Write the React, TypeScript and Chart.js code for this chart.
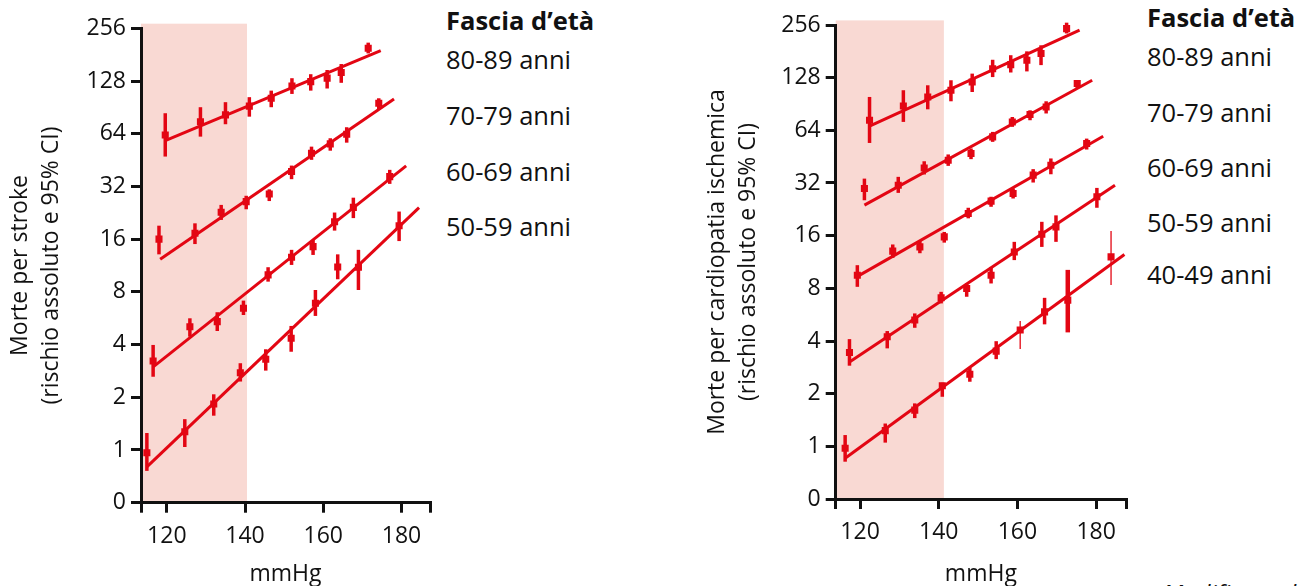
import React, { useEffect, useRef } from 'react';
import { Chart, registerables } from 'chart.js';

Chart.register(...registerables);

// ---------- shared axis data ----------
const yTickValues = [0.5, 1, 2, 4, 8, 16, 32, 64, 128, 256];
const yTickLabels = ['0', '1', '2', '4', '8', '16', '32', '64', '128', '256'];
const xTickValues = [120, 140, 160, 180];
const xTitle = 'mmHg';
const legendTitle = 'Fascia d\u2019et\u00e0';
const sourceNote = 'Modificato da';

// ---------- panel 1: stroke ----------
const strokeTitle = ['Morte per stroke', '(rischio assoluto e 95% CI)'];
const strokeXRange = [113.4, 187.3];
const strokeBandX = [113.4, 140.5];
const strokeBandTop = 272;
const strokeAges = ['80-89 anni', '70-79 anni', '60-69 anni', '50-59 anni'];

const stroke80X = [119.6, 128.6, 135.0, 141.1, 146.7, 152.0, 156.8, 161.0, 164.6, 171.5];
const stroke80Y = [63, 75, 82, 92, 102, 120, 127, 133, 143, 197];
const stroke80Lo = [47.4, 61.6, 72.5, 80.1, 90.7, 108, 112.8, 116, 125, 184];
const stroke80Hi = [83.8, 90.7, 96.9, 103.5, 112.8, 132.8, 140, 148, 160, 212];
const stroke80FitX = [119.6, 174.7];
const stroke80FitY = [58.4, 191];

const stroke70X = [118.0, 127.2, 133.9, 140.3, 146.2, 151.9, 157.0, 161.8, 166.0, 174.2];
const stroke70Y = [16, 17.3, 22.8, 26.2, 29, 38.9, 49.5, 56, 63.6, 95.6];
const stroke70Lo = [13.1, 15, 20.6, 23.7, 26.4, 35.2, 45.4, 51.2, 56.9, 88];
const stroke70Hi = [19.1, 19.7, 25.1, 28.3, 30.8, 42.1, 54, 60.3, 69.7, 102];
const stroke70FitX = [118.3, 178.1];
const stroke70FitY = [12.3, 101];

const stroke60X = [116.5, 125.9, 132.9, 139.6, 145.9, 151.9, 157.4, 162.9, 167.7, 177.0];
const stroke60Y = [3.22, 5.06, 5.41, 6.45, 10.0, 12.6, 14.5, 20.1, 24.3, 36.4];
const stroke60Lo = [2.62, 4.44, 4.78, 5.9, 9.15, 11.4, 13, 17.9, 21.1, 33.1];
const stroke60Hi = [3.98, 5.65, 6.12, 7.13, 11.06, 13.9, 15.8, 22.7, 27.6, 39.8];
const stroke60FitX = [116.6, 181.2];
const stroke60FitY = [2.99, 41.9];

const stroke50X = [114.9, 124.6, 132.0, 138.8, 145.3, 151.8, 158.0, 163.7, 169.0, 179.4];
const stroke50Y = [0.965, 1.27, 1.83, 2.76, 3.3, 4.35, 6.89, 11.1, 11.06, 19.1];
const stroke50Lo = [0.76, 1.04, 1.57, 2.46, 2.84, 3.64, 5.83, 9.44, 8.2, 15.6];
const stroke50Hi = [1.25, 1.5, 2.08, 3.13, 3.76, 5.11, 8.2, 13.1, 13.9, 23];
const stroke50FitX = [114.9, 184.5];
const stroke50FitY = [0.8, 24.2];

// ---------- panel 2: ischaemic heart disease ----------
const cardioTitle = ['Morte per cardiopatia ischemica', '(rischio assoluto e 95% CI)'];
const cardioXRange = [113.8, 187.6];
const cardioBandX = [113.8, 141.3];
const cardioBandTop = 272;
const cardioAges = ['80-89 anni', '70-79 anni', '60-69 anni', '50-59 anni', '40-49 anni'];

const cardio80X = [122.4, 131.0, 137.2, 143.1, 148.5, 153.7, 158.3, 162.4, 166.0, 172.5];
const cardio80Y = [73, 88.2, 99.3, 108.5, 121, 144, 152, 161, 176, 244];
const cardio80Lo = [54.2, 71.5, 84.4, 93.8, 106, 129, 137, 139, 151, 229];
const cardio80Hi = [99.3, 108.5, 115.8, 123.7, 135, 162, 172, 181, 196, 264];
const cardio80FitX = [122.4, 175.8];
const cardio80FitY = [67.6, 239];

const cardio70X = [121.1, 129.7, 136.3, 142.4, 148.2, 153.7, 158.7, 163.2, 167.3, 175.2];
const cardio70Y = [29.8, 31.1, 39, 43.2, 47.2, 58.7, 71.5, 78.8, 87.1, 118.5];
const cardio70Lo = [25.5, 28.1, 35.8, 40.1, 43.8, 55, 67, 73.1, 79.9, 111.8];
const cardio70Hi = [33.9, 34.7, 42.6, 46.6, 50.4, 62.7, 76.3, 83.3, 93.8, 123.7];
const cardio70FitX = [121.1, 179.0];
const cardio70FitY = [23.9, 123.7];

const cardio60X = [119.3, 128.3, 135.2, 141.4, 147.5, 153.3, 158.9, 164.0, 168.5, 177.6];
const cardio60Y = [9.5, 13.05, 13.8, 15.75, 21.4, 25.2, 27.9, 35.5, 40.4, 53.8];
const cardio60Lo = [8.16, 11.95, 12.7, 14.6, 20.1, 23.4, 26.1, 32.2, 35.9, 49.7];
const cardio60Hi = [10.85, 14.25, 14.9, 16.8, 23.1, 26.7, 29.8, 38.4, 44.2, 57.4];
const cardio60FitX = [118.9, 181.8];
const cardio60FitY = [9.24, 59.2];

const cardio50X = [117.3, 126.9, 133.9, 140.6, 147.1, 153.3, 159.2, 166.2, 169.8, 180.2];
const cardio50Y = [3.44, 4.23, 5.27, 7.06, 7.99, 9.5, 12.9, 16.3, 17.96, 26.7];
const cardio50Lo = [2.89, 3.63, 4.76, 6.56, 7.16, 8.53, 11.6, 13.8, 14.75, 23.1];
const cardio50Hi = [4.1, 4.56, 5.75, 7.64, 8.53, 10.6, 14.75, 19.2, 20.9, 30];
const cardio50FitX = [117.4, 184.8];
const cardio50FitY = [3.04, 31.1];

const cardio40X = [116.2, 126.4, 133.9, 140.9, 147.9, 154.6, 160.7, 166.9, 172.8, 183.8];
const cardio40Y = [0.974, 1.23, 1.61, 2.22, 2.58, 3.5, 4.62, 5.87, 6.85, 12.1];
const cardio40Lo = [0.817, 1.05, 1.45, 1.92, 2.34, 3.15, 3.6, 4.98, 4.48, 8.35];
const cardio40Hi = [1.16, 1.35, 1.76, 2.31, 2.81, 3.99, 5.2, 7.06, 10.2, 17];
const cardio40FitX = [116.2, 187.2];
const cardio40FitY = [0.854, 12.5];

// ---------- styling ----------
const FONT = "'Open Sans', sans-serif";
const RED = 'rgb(227,6,19)';
const BAND = 'rgb(249,217,211)';
const INK = '#111';
const CI_WIDTH = 3.5;
const AXIS_FONT_SIZE = 23;
// per-point CI stroke widths for the 40-49 group (style only)
const cardio40CiStroke = [3.5, 3.5, 3.5, 3.5, 3.5, 3.5, 1.3, 3.5, 4.5, 1.3];

type Group = { x: number[]; y: number[]; lo: number[]; hi: number[]; fitX: number[]; fitY: number[]; ciStroke?: number[] };

const strokeGroups: Group[] = [
  { x: stroke80X, y: stroke80Y, lo: stroke80Lo, hi: stroke80Hi, fitX: stroke80FitX, fitY: stroke80FitY },
  { x: stroke70X, y: stroke70Y, lo: stroke70Lo, hi: stroke70Hi, fitX: stroke70FitX, fitY: stroke70FitY },
  { x: stroke60X, y: stroke60Y, lo: stroke60Lo, hi: stroke60Hi, fitX: stroke60FitX, fitY: stroke60FitY },
  { x: stroke50X, y: stroke50Y, lo: stroke50Lo, hi: stroke50Hi, fitX: stroke50FitX, fitY: stroke50FitY },
];
const cardioGroups: Group[] = [
  { x: cardio80X, y: cardio80Y, lo: cardio80Lo, hi: cardio80Hi, fitX: cardio80FitX, fitY: cardio80FitY },
  { x: cardio70X, y: cardio70Y, lo: cardio70Lo, hi: cardio70Hi, fitX: cardio70FitX, fitY: cardio70FitY },
  { x: cardio60X, y: cardio60Y, lo: cardio60Lo, hi: cardio60Hi, fitX: cardio60FitX, fitY: cardio60FitY },
  { x: cardio50X, y: cardio50Y, lo: cardio50Lo, hi: cardio50Hi, fitX: cardio50FitX, fitY: cardio50FitY },
  { x: cardio40X, y: cardio40Y, lo: cardio40Lo, hi: cardio40Hi, fitX: cardio40FitX, fitY: cardio40FitY, ciStroke: cardio40CiStroke },
];

const bandPlugin = {
  id: 'normBand',
  beforeDraw(chart: any, _args: any, opts: any) {
    const { ctx, chartArea, scales } = chart;
    const x0 = scales.x.getPixelForValue(opts.from);
    const x1 = scales.x.getPixelForValue(opts.to);
    const yTop = scales.y.getPixelForValue(opts.top);
    ctx.save();
    ctx.fillStyle = opts.color;
    ctx.fillRect(x0, yTop, x1 - x0, chartArea.bottom - yTop);
    ctx.restore();
  },
};

const errorBarPlugin = {
  id: 'ciBars',
  beforeDatasetsDraw(chart: any) {
    const { ctx, scales } = chart;
    chart.data.datasets.forEach((ds: any) => {
      if (!ds.ciLo) return;
      ctx.save();
      ctx.strokeStyle = ds.backgroundColor;
      ds.data.forEach((p: any, i: number) => {
        const px = scales.x.getPixelForValue(p.x);
        ctx.lineWidth = ds.ciStroke ? ds.ciStroke[i] : CI_WIDTH;
        ctx.beginPath();
        ctx.moveTo(px, scales.y.getPixelForValue(ds.ciLo[i]));
        ctx.lineTo(px, scales.y.getPixelForValue(ds.ciHi[i]));
        ctx.stroke();
      });
      ctx.restore();
    });
  },
};

type PanelCfg = {
  left: number;
  width: number;
  padLeft: number;
  padRight: number;
  padTop: number;
  yWidth: number;
  xHeight: number;
  title: string[];
  xRange: number[];
  bandX: number[];
  bandTop: number;
  groups: Group[];
};

function buildChart(canvas: HTMLCanvasElement, cfg: PanelCfg) {
  const datasets: any[] = [];
  cfg.groups.forEach((g) => {
    datasets.push({
      data: g.fitX.map((x, i) => ({ x, y: g.fitY[i] })),
      showLine: true,
      borderColor: RED,
      backgroundColor: RED,
      borderWidth: 3,
      pointRadius: 0,
      fill: false,
    });
    datasets.push({
      data: g.x.map((x, i) => ({ x, y: g.y[i] })),
      showLine: false,
      pointStyle: 'rect',
      pointRadius: 5,
      borderWidth: 0,
      borderColor: RED,
      backgroundColor: RED,
      ciLo: g.lo,
      ciHi: g.hi,
      ciStroke: g.ciStroke,
    });
  });
  const tickFont = { family: FONT, size: AXIS_FONT_SIZE };
  return new Chart(canvas, {
    type: 'scatter',
    data: { datasets },
    plugins: [bandPlugin, errorBarPlugin],
    options: {
      animation: false,
      responsive: false,
      events: [],
      layout: { padding: { left: cfg.padLeft, right: cfg.padRight, top: cfg.padTop, bottom: 0 } },
      plugins: {
        legend: { display: false },
        tooltip: { enabled: false },
        normBand: { from: cfg.bandX[0], to: cfg.bandX[1], top: cfg.bandTop, color: BAND },
      } as any,
      scales: {
        x: {
          type: 'linear',
          min: cfg.xRange[0],
          max: cfg.xRange[1],
          afterFit: (s: any) => { s.height = cfg.xHeight; },
          afterBuildTicks: (s: any) => {
            s.ticks = [cfg.xRange[0], ...xTickValues, cfg.xRange[1]].map((v) => ({ value: v }));
          },
          ticks: {
            autoSkip: false,
            maxRotation: 0,
            font: tickFont,
            color: INK,
            padding: 10,
            callback: (v: any) => (xTickValues.includes(Number(v)) ? String(v) : ''),
          },
          grid: { drawOnChartArea: false, drawTicks: true, tickLength: 10, color: INK, lineWidth: 3 },
          border: { display: true, color: INK, width: 3 },
          title: { display: true, text: xTitle, color: INK, font: { family: FONT, size: AXIS_FONT_SIZE, lineHeight: 1 }, padding: { top: 0, bottom: 0 } },
        },
        y: {
          type: 'logarithmic',
          min: yTickValues[0],
          max: yTickValues[yTickValues.length - 1],
          afterFit: (s: any) => { s.width = cfg.yWidth; },
          afterBuildTicks: (s: any) => {
            s.ticks = yTickValues.map((v) => ({ value: v }));
          },
          ticks: {
            autoSkip: false,
            font: tickFont,
            color: INK,
            padding: 5,
            callback: (v: any) => {
              const i = yTickValues.indexOf(Number(v));
              return i >= 0 ? yTickLabels[i] : '';
            },
          },
          grid: { drawOnChartArea: false, drawTicks: true, tickLength: 10, color: INK, lineWidth: 3 },
          border: { display: true, color: INK, width: 3 },
          title: { display: true, text: cfg.title, color: INK, font: { family: FONT, size: AXIS_FONT_SIZE, lineHeight: 31 / AXIS_FONT_SIZE }, padding: { top: 5, bottom: 0 } },
        },
      },
    } as any,
  });
}

function Panel({ cfg }: { cfg: PanelCfg }) {
  const ref = useRef<HTMLCanvasElement>(null);
  useEffect(() => {
    const chart = buildChart(ref.current as HTMLCanvasElement, cfg);
    return () => chart.destroy();
  }, []);
  return (
    <canvas
      ref={ref}
      width={cfg.width}
      height={586}
      style={{ position: 'absolute', left: cfg.left, top: 0, width: cfg.width, height: 586, display: 'block' }}
    />
  );
}

const strokeCfg: PanelCfg = {
  left: 0, width: 440, padLeft: 0, padRight: 9, padTop: 28.3, yWidth: 141, xHeight: 83.3,
  title: strokeTitle, xRange: strokeXRange, bandX: strokeBandX, bandTop: strokeBandTop, groups: strokeGroups,
};
const cardioCfg: PanelCfg = {
  left: 690, width: 450, padLeft: 6.5, padRight: 14, padTop: 25, yWidth: 139.2, xHeight: 87,
  title: cardioTitle, xRange: cardioXRange, bandX: cardioBandX, bandTop: cardioBandTop, groups: cardioGroups,
};

const LEGEND_SIZE = 25.5;
const strokeLegendLayout = { x: 446, titleY: 21.5, rowY: [61, 117, 173, 228] };
const cardioLegendLayout = { x: 1147, titleY: 19, rowY: [58, 113.5, 168.5, 224, 275.5] };

function Text({ x, cy, children, bold, italic, size }: any) {
  const fs = size || LEGEND_SIZE;
  return (
    <div
      style={{
        position: 'absolute',
        left: x,
        top: cy - 0.531 * fs,
        fontFamily: FONT,
        fontSize: fs,
        lineHeight: fs + 'px',
        fontWeight: bold ? 700 : 400,
        fontStyle: italic ? 'italic' : 'normal',
        color: INK,
        whiteSpace: 'nowrap',
      }}
    >
      {children}
    </div>
  );
}

export default function App() {
  return (
    <div style={{ position: 'fixed', left: 0, top: 0, width: 1306, height: 586, overflow: 'hidden', background: '#fff' }}>
      <Panel cfg={strokeCfg} />
      <Panel cfg={cardioCfg} />
      <Text x={strokeLegendLayout.x} cy={strokeLegendLayout.titleY} bold>{legendTitle}</Text>
      {strokeAges.map((a, i) => (
        <Text key={'s' + a} x={strokeLegendLayout.x} cy={strokeLegendLayout.rowY[i]}>{a}</Text>
      ))}
      <Text x={cardioLegendLayout.x} cy={cardioLegendLayout.titleY} bold>{legendTitle}</Text>
      {cardioAges.map((a, i) => (
        <Text key={'c' + a} x={cardioLegendLayout.x} cy={cardioLegendLayout.rowY[i]}>{a}</Text>
      ))}
      <Text x={1163} cy={594} italic size={24}>{sourceNote}</Text>
    </div>
  );
}
